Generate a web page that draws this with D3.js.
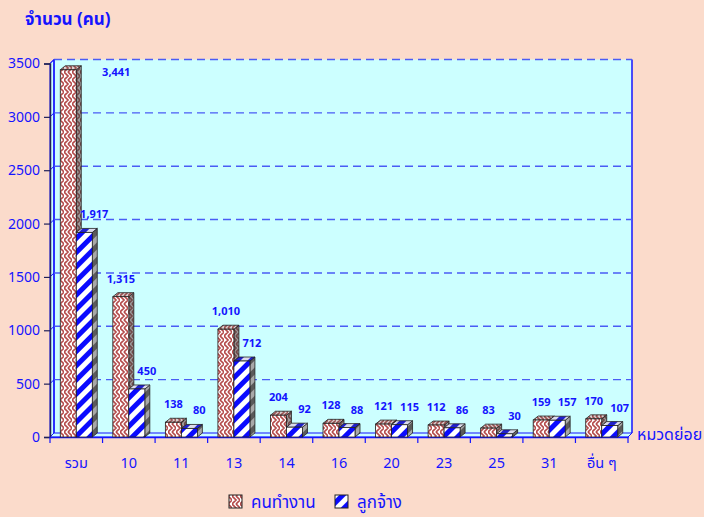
<!DOCTYPE html>
<html>
<head>
<meta charset="utf-8">
<script src="https://cdn.jsdelivr.net/npm/d3@7/dist/d3.min.js"></script>
<style>
  html, body { margin: 0; padding: 0; background: #FBDBCB; }
  svg { display: block; }
  text { font-family: Tahoma, "Noto Sans Thai", "Noto Sans", sans-serif; }
</style>
</head>
<body>
<svg id="chart" width="704" height="517"></svg>
<script>
// ---- data ----
const categories = ["รวม", "10", "11", "13", "14", "16", "20", "23", "25", "31", "อื่น ๆ"];
const workers   = [3441, 1315, 138, 1010, 204, 128, 121, 112, 83, 159, 170];   // คนทำงาน
const employees = [1917, 450, 80, 712, 92, 88, 115, 86, 30, 157, 107];         // ลูกจ้าง
const seriesNames = ["คนทำงาน", "ลูกจ้าง"];
const yTicks = [0, 500, 1000, 1500, 2000, 2500, 3000, 3500];
const yTitle = "จำนวน (คน)";
const xTitle = "หมวดย่อย";

(function () {
// ---- setup ----
const svg = d3.select("#chart");
const W = 704, H = 517;
const blue = "#1414ff";
const pL = 50, pR = 628, pB = 437, pT = 63.5;
const wdx = 4, wdy = -4;      // wall depth offset
const bdx = 5, bdy = -4;      // bar depth offset

svg.append("rect").attr("width", W).attr("height", H).attr("fill", "#FBDBCB");

const x = d3.scaleBand().domain(categories).range([pL, pR]).padding(0);
const y = d3.scaleLinear().domain([0, 3500]).range([pB, pT]);

// ---- patterns ----
const defs = svg.append("defs");
function weavePattern(id, bg, fg) {
  const p = defs.append("pattern").attr("id", id)
    .attr("patternUnits", "userSpaceOnUse").attr("width", 8).attr("height", 8);
  p.append("rect").attr("width", 8).attr("height", 8).attr("fill", bg);
  p.append("path").attr("d", "M0,0 L4,4 L0,8 M4,0 L8,4 L4,8")
    .attr("fill", "none").attr("stroke", fg).attr("stroke-width", 1.7);
}
function stripePattern(id, bg, fg) {
  const p = defs.append("pattern").attr("id", id)
    .attr("patternUnits", "userSpaceOnUse").attr("width", 10).attr("height", 10)
    .attr("patternTransform", "rotate(45)");
  p.append("rect").attr("width", 10).attr("height", 10).attr("fill", bg);
  p.append("rect").attr("width", 5).attr("height", 10).attr("fill", fg);
}
weavePattern("pinkFront", "#ffffff", "#b44a4a");
weavePattern("pinkTop", "#d8d0d0", "#9a5050");
weavePattern("pinkSide", "#9a9a9a", "#704848");
stripePattern("blueFront", "#ffffff", "#0a0aff");
stripePattern("blueTop", "#dcdcec", "#2020d0");
stripePattern("blueSide", "#a8a8a8", "#5a5a5a");
const fills = [
  { front: "url(#pinkFront)", top: "url(#pinkTop)", side: "url(#pinkSide)" },
  { front: "url(#blueFront)", top: "url(#blueTop)", side: "url(#blueSide)" }
];

// ---- walls ----
const g = svg.append("g");
g.append("rect")
  .attr("x", pL + wdx).attr("y", pT + wdy)
  .attr("width", pR - pL).attr("height", pB - pT)
  .attr("fill", "#CCFFFF");
g.append("polygon")
  .attr("points", [[pL, pT], [pL + wdx, pT + wdy], [pL + wdx, pB + wdy], [pL, pB]].join(" "))
  .attr("fill", "#CCFFFF").attr("stroke", blue).attr("stroke-width", 1);
g.append("polygon")
  .attr("points", [[pL, pB], [pL + wdx, pB + wdy], [pR + wdx, pB + wdy], [pR, pB]].join(" "))
  .attr("fill", "#CCFFFF").attr("stroke", blue).attr("stroke-width", 1);
g.append("line")
  .attr("x1", pR + wdx).attr("x2", pR + wdx)
  .attr("y1", pT + wdy).attr("y2", pB + wdy)
  .attr("stroke", blue).attr("stroke-width", 1.5);
g.append("line")
  .attr("x1", pL + wdx).attr("x2", pL + wdx)
  .attr("y1", pT + wdy).attr("y2", pB + wdy)
  .attr("stroke", blue).attr("stroke-width", 1.5);

// gridlines
yTicks.filter(t => t > 0).forEach(t => {
  g.append("line")
    .attr("x1", pL + wdx).attr("x2", pR + wdx)
    .attr("y1", y(t) + wdy).attr("y2", y(t) + wdy)
    .attr("stroke", "#4a5cf5").attr("stroke-width", 1.4)
    .attr("stroke-dasharray", "8,5");
  g.append("line")
    .attr("x1", pL).attr("x2", pL + wdx)
    .attr("y1", y(t)).attr("y2", y(t) + wdy)
    .attr("stroke", blue).attr("stroke-width", 1);
});

// ---- axes ----
const yAxis = svg.append("g").attr("transform", `translate(${pL},0)`)
  .call(d3.axisLeft(y).tickValues(yTicks).tickSize(6).tickPadding(4).tickFormat(d3.format("d")));
yAxis.select(".domain").attr("stroke", "#20205a").attr("stroke-width", 1.5);
yAxis.selectAll(".tick line").attr("stroke", "#20205a").attr("stroke-width", 1.2);
yAxis.selectAll(".tick text").attr("fill", blue).style("font-size", "14px")
  .style("font-family", "Tahoma, 'Noto Sans Thai', sans-serif");

const xAxis = svg.append("g").attr("transform", `translate(0,${pB})`)
  .call(d3.axisBottom(x).tickSize(0).tickPadding(21));
xAxis.select(".domain").attr("stroke", blue).attr("stroke-width", 1.5);
xAxis.selectAll(".tick text").attr("fill", blue).style("font-size", "14.5px")
  .style("font-family", "Tahoma, 'Noto Sans Thai', sans-serif");
d3.range(categories.length + 1).forEach(k => {
  const xx = pL + k * x.step();
  svg.append("line").attr("x1", xx).attr("x2", xx)
    .attr("y1", pB).attr("y2", pB + 6)
    .attr("stroke", blue).attr("stroke-width", 1.2);
});

// ---- bars ----
const series = [workers, employees];
const bw = 16;
const barsG = svg.append("g");
categories.forEach((c, i) => {
  const cx = x(c) + x.bandwidth() / 2;
  series.forEach((vals, s) => {
    const v = vals[i];
    const x0 = cx - bw + s * bw;
    const x1 = x0 + bw;
    const yt = y(v);
    const f = fills[s];
    barsG.append("polygon")
      .attr("points", [[x1, yt], [x1 + bdx, yt + bdy], [x1 + bdx, pB + bdy], [x1, pB]].join(" "))
      .attr("fill", f.side).attr("stroke", "#222").attr("stroke-width", 0.8);
    barsG.append("polygon")
      .attr("points", [[x0, yt], [x0 + bdx, yt + bdy], [x1 + bdx, yt + bdy], [x1, yt]].join(" "))
      .attr("fill", f.top).attr("stroke", "#222").attr("stroke-width", 0.8);
    barsG.append("rect")
      .attr("x", x0).attr("y", yt).attr("width", bw).attr("height", pB - yt)
      .attr("fill", f.front).attr("stroke", "#222").attr("stroke-width", 0.8);
  });
});

// ---- value labels ----
const fmt = d3.format(",");
const labelsG = svg.append("g");
categories.forEach((c, i) => {
  const cx = x(c) + x.bandwidth() / 2;
  series.forEach((vals, s) => {
    const v = vals[i];
    const bc = cx - bw / 2 + s * bw;
    let ly = y(v) - 18;
    let lx = bc + (s ? 10 : 0);
    const minY = y(3500) + 8;
    if (ly < minY) { ly = minY; lx = bc + 3 * bw; }
    labelsG.append("text")
      .attr("x", lx).attr("y", ly + 4)
      .attr("text-anchor", "middle")
      .attr("fill", blue)
      .style("font-size", "11px").style("font-weight", "bold")
      .text(fmt(v));
  });
});

// ---- titles ----
svg.append("text").attr("x", 25).attr("y", 25)
  .attr("fill", blue).style("font-size", "17px").style("font-weight", "bold")
  .text(yTitle);
svg.append("text").attr("x", 637).attr("y", 440)
  .attr("fill", blue).style("font-size", "16px")
  .text(xTitle);

// ---- legend ----
const legend = svg.append("g");
const legendItems = [
  { name: seriesNames[0], fill: fills[0].front, x: 229 },
  { name: seriesNames[1], fill: fills[1].front, x: 335 }
];
legendItems.forEach(it => {
  legend.append("rect").attr("x", it.x).attr("y", 495).attr("width", 13).attr("height", 13)
    .attr("fill", it.fill).attr("stroke", "#222").attr("stroke-width", 1);
  legend.append("text").attr("x", it.x + 22).attr("y", 508)
    .attr("fill", blue).style("font-size", "17px")
    .text(it.name);
});
})();
</script>
</body>
</html>
